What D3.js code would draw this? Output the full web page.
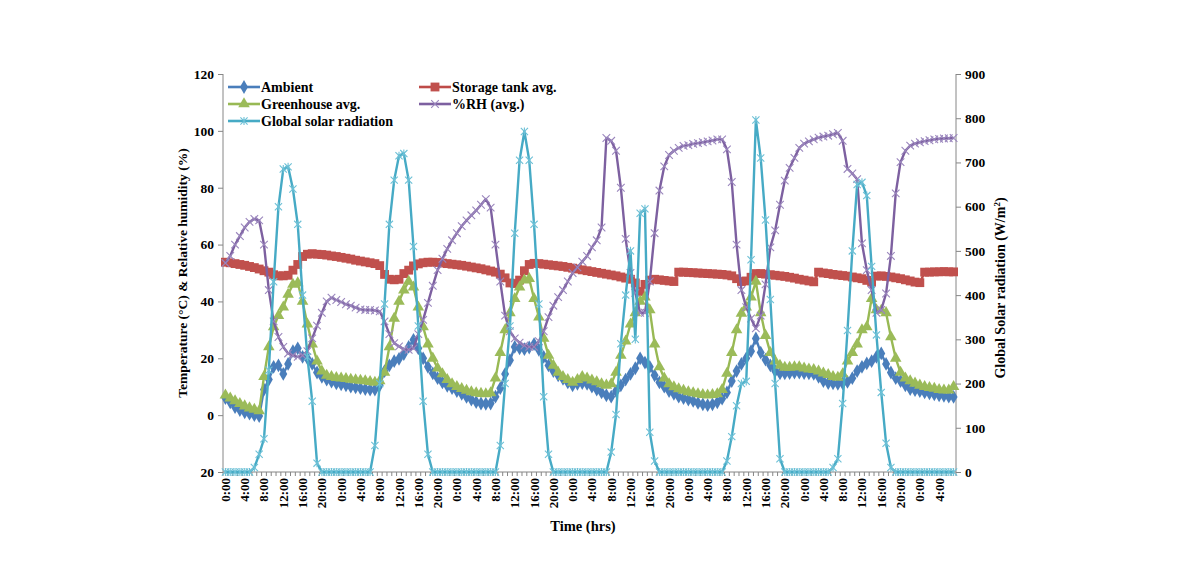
<!DOCTYPE html>
<html><head><meta charset="utf-8">
<script src="https://cdn.jsdelivr.net/npm/d3@7/dist/d3.min.js"></script>
<style>
body{margin:0;background:#fff}
svg{display:block}
text{font-family:"Liberation Serif","Times New Roman",serif;font-weight:bold;fill:#000}
</style>
</head><body>
<svg id="c" width="1192" height="574"></svg>
<script>
// ---- data (hourly, 152 points) ----
const ambient = [
6,4.5,2.8,1.8,1,0.5,0,-0.3,9,12.5,17,17.5,14.5,18,22.5,23.5,20.5,20,18,15,13.5,12.5,11.8,11.2,
10.8,10.5,10,9.8,9.5,9.2,9,9,10.5,15.5,17.5,19,19.8,21.5,24,26.5,23.5,20,17,14.7,13,11.5,10.3,9.5,
8.5,7.5,6.4,5.5,4.6,4.1,4,4.1,6.5,9.5,14.5,19.3,24,23.5,23.2,23.8,25,23,20.5,17.5,15.5,14,12.8,11.5,
10.5,11,11.3,11,10,9,8,7,6.5,8.5,10.5,12.5,14.5,16.5,20,18.5,17,14,11.5,10,8.5,7.5,6.5,6,
5.5,5,4.3,3.8,3.5,3.8,4.5,5.8,8,12,15.5,18,20,22.5,27,22,19.5,17.5,15.5,14.7,14.7,14.8,15,15,
14.8,14.7,14.5,13.5,12,11.3,11.2,11,11.2,11.7,13,15.5,17,18.2,19,20.5,21.7,18,15,13,12,10.5,9.2,8.8,
8.5,8,7.7,7.3,7,6.8,6.5,6.4];
const storage = [
53.8,53.6,53.3,53.0,52.7,52.3,51.9,51.4,50.8,50.3,49.4,49.0,49.0,49.2,51.0,53.0,55.8,56.6,56.8,56.6,56.5,56.3,56.0,55.8,
55.5,55.2,54.9,54.5,54.2,53.9,53.6,53.3,52.6,49.5,47.8,47.6,47.8,49.8,51.0,52.5,53.2,53.6,53.8,53.8,53.7,53.5,53.3,53.1,
52.9,52.7,52.4,52.1,51.8,51.5,51.1,50.7,50.3,49.6,48.3,46.5,46.3,47.5,50.8,53.0,53.4,53.3,53.1,52.9,52.7,52.5,52.3,52.0,
51.7,51.4,51.1,50.8,50.5,50.2,49.9,49.6,49.3,49.0,48.6,48.2,47.8,46.5,43.5,46.0,47.5,47.8,47.6,47.4,47.2,47.0,50.3,50.3,
50.2,50.1,50.0,49.9,49.8,49.7,49.6,49.5,49.3,49.0,48.0,47.0,47.2,48.5,49.8,49.8,49.6,49.4,49.2,49.0,48.8,48.5,48.2,47.8,
47.5,47.2,46.9,50.3,50.0,49.8,49.5,49.3,49.1,48.9,48.6,48.3,48.0,47.4,46.8,48.9,49.0,48.8,48.6,48.3,48.0,47.6,47.2,46.8,
46.6,50.3,50.3,50.4,50.4,50.5,50.4,50.4];
const greenhouse = [
7,6,5,4,3.2,2.5,2,1.5,13.5,24,31,35,38,42.5,46,46.5,40,32,25,19,15.5,14,13.5,13.2,
13,12.8,12.6,12.4,12.2,12,11.8,11.5,12,15,24,34,40,44,47,45,38,31,25,20,16.5,14.5,12.5,11,
10,9.3,8.7,8.2,7.8,7.6,7.5,7.8,13,22,30,36,41,45,47.5,48,41,34.5,27,21,17.5,15,13.5,12.5,
11.5,12.5,13.5,13,12.3,11.7,11,10.5,11,15,21,26,32,36,40,41.5,37,25,17,13,11,9.9,9.2,8.7,
8.2,7.8,7.5,7.2,7,7.2,7.5,9,14.7,22,30,35.8,38,41.5,47,36,28,22,19,17.5,16.8,16.8,17,17,
16.5,16.2,16,15.5,14.8,14.2,13.5,13.3,14.5,19,22,25,30,31,41,37,36.8,36,27.5,20,15,13,12,11.2,
10.5,10,9.7,9.4,9,8.8,8.8,10];
const humidity = [
53.5,56,60,63,66,68,69,68.5,60,44,33,27.5,24,21.7,21,20.5,21,22.5,27,31.5,36,40,41.3,40.5,
39.8,39,38.5,37.8,37.2,37,37,36.8,36.5,33,28.5,25.3,24.2,23.2,23,23.5,28.5,33.5,39.5,45.5,51,55,58.5,61.5,
64,66.5,68.5,70.3,72,74,76,73,60,47,35,29.5,27,25.5,24.5,24,24,26,29.5,34.5,38.5,41.5,44,47,
50,52,54,56,59,61.5,66,97.5,96.5,93,80,62,50,43,36,36,47,64,79,87.5,91.5,93,94,94.7,
95,95.4,95.7,96,96.3,96.6,97,97,93.5,82,60,44,38,34,30.5,35,46,59,65,74,82.5,87,90.5,94,
95.5,96.3,97,97.6,98,98.3,98.8,99.3,96.5,86.6,85,83,60.4,51,44,36,37,42.8,56,78,89,93,94.8,95.5,
96,96.4,96.7,97,97.2,97.3,97.4,97.5];
const solar = [
0,0,0,0,0,0,10,40,75,230,430,600,685,690,640,560,400,260,160,20,0,0,0,0,
0,0,0,0,0,0,0,60,200,380,560,660,715,720,660,510,330,160,40,0,0,0,0,0,
0,0,0,0,0,0,0,0,0,60,200,330,540,705,770,705,560,380,170,40,0,0,0,0,
0,0,0,0,0,0,0,0,45,130,290,400,500,300,585,595,90,25,0,0,0,0,0,0,
0,0,0,0,0,0,0,0,25,80,150,200,205,480,796,710,570,390,200,30,0,0,0,0,
0,0,0,0,0,0,10,30,155,320,500,650,655,625,465,310,180,65,10,0,0,0,0,0,
0,0,0,0,0,0,0,0];
const hourLabels = ["0:00","4:00","8:00","12:00","16:00","20:00"];
const leftTicks = [-20,0,20,40,60,80,100,120];
const leftTickLabels = ["20","0","20","40","60","80","100","120"];
const rightTicks = [0,100,200,300,400,500,600,700,800,900];

// ---- layout ----
const svg = d3.select("#c");
const L = 223, R = 956, T = 74, B = 472;
const n = solar.length;
const x = d3.scaleBand().domain(d3.range(n)).range([L, R]);
const xc = i => x(i) + x.bandwidth()/2;
const yL = d3.scaleLinear().domain([-20,120]).range([B,T]);
const yR = d3.scaleLinear().domain([0,900]).range([B,T]);
const axisCol = "#868686";

svg.append("line").attr("x1",L).attr("x2",L).attr("y1",T).attr("y2",B).attr("stroke",axisCol);
svg.append("line").attr("x1",R).attr("x2",R).attr("y1",T).attr("y2",B).attr("stroke",axisCol);
svg.append("line").attr("x1",L).attr("x2",R).attr("y1",B).attr("y2",B).attr("stroke",axisCol);

const gl = svg.append("g").attr("transform",`translate(${L},0)`)
  .call(d3.axisLeft(yL).tickValues(leftTicks).tickSize(5).tickFormat((d,i)=>leftTickLabels[i]));
gl.select(".domain").remove();
gl.selectAll("line").attr("stroke",axisCol);
gl.selectAll("text").attr("font-size",13.5).attr("x",-9).style("font-family",'"Liberation Serif",serif').style("font-weight","bold");

const gr = svg.append("g").attr("transform",`translate(${R},0)`)
  .call(d3.axisRight(yR).tickValues(rightTicks).tickSize(5));
gr.select(".domain").remove();
gr.selectAll("line").attr("stroke",axisCol);
gr.selectAll("text").attr("font-size",13.5).attr("x",9).style("font-family",'"Liberation Serif",serif').style("font-weight","bold");

svg.append("g").selectAll("line").data(d3.range(n+1)).join("line")
  .attr("x1",i=>L+i*x.step()).attr("x2",i=>L+i*x.step())
  .attr("y1",B).attr("y2",B+4).attr("stroke",axisCol);
svg.append("g").selectAll("text").data(d3.range(0,n,4)).join("text")
  .attr("transform",i=>`translate(${xc(i)+4.5},${B+6}) rotate(-90)`)
  .attr("text-anchor","end").attr("font-size",13)
  .text(i=>hourLabels[(i%24)/4]);

svg.append("text").attr("x",583).attr("y",531).attr("text-anchor","middle").attr("font-size",14.5).text("Time (hrs)");
svg.append("text").attr("transform","translate(187,273) rotate(-90)").attr("text-anchor","middle").attr("font-size",13.5)
  .text("Temperature  (°C) & Relative humidity  (%)");
const rt = svg.append("text").attr("transform","translate(1005,288) rotate(-90)").attr("text-anchor","middle").attr("font-size",14);
rt.append("tspan").text("Global Solar radiation  (W/m");
rt.append("tspan").attr("dy",-5).attr("font-size",9).text("2");
rt.append("tspan").attr("dy",5).text(")");

function marker(g, type, color, px, py){
  if(type==="diamond"){
    g.append("path").attr("d",d3.symbol(d3.symbolDiamond,55)()).attr("transform",`translate(${px},${py})`).attr("fill",color);
  } else if(type==="square"){
    g.append("path").attr("d",d3.symbol(d3.symbolSquare,78)()).attr("transform",`translate(${px},${py})`).attr("fill",color);
  } else if(type==="triangle"){
    g.append("path").attr("d",d3.symbol(d3.symbolTriangle,58)()).attr("transform",`translate(${px},${py})`).attr("fill",color);
  } else if(type==="x"){
    const s=3.8;
    g.append("path").attr("d",`M${px-s},${py-s}L${px+s},${py+s}M${px-s},${py+s}L${px+s},${py-s}`).attr("stroke",color).attr("stroke-width",1.1).attr("fill","none");
  } else if(type==="star"){
    const s=3.6;
    g.append("path").attr("d",`M${px-s},${py-s}L${px+s},${py+s}M${px-s},${py+s}L${px+s},${py-s}M${px},${py-s-0.5}L${px},${py+s+0.5}`).attr("stroke",color).attr("stroke-width",1.1).attr("fill","none");
  }
}

const series = [
  {name:"Ambient", data:ambient, y:yL, color:"#4a7ebb", mcolor:"#4a7ebb", type:"diamond"},
  {name:"Storage tank avg.", data:storage, y:yL, color:"#be4b48", mcolor:"#c0504d", type:"square"},
  {name:"Greenhouse avg.", data:greenhouse, y:yL, color:"#98b954", mcolor:"#9bbb59", type:"triangle"},
  {name:"%RH (avg.)", data:humidity, y:yL, color:"#7d60a0", mcolor:"#9a86bd", type:"x"},
  {name:"Global solar radiation", data:solar, y:yR, color:"#46aac5", mcolor:"#6cc0d6", type:"star"}
];

const plot = svg.append("g");
series.forEach(s=>{
  const g = plot.append("g");
  g.append("path").datum(s.data)
    .attr("d", d3.line().x((d,i)=>xc(i)).y(d=>s.y(d)))
    .attr("fill","none").attr("stroke",s.color).attr("stroke-width",2.4).attr("stroke-linejoin","round");
  s.data.forEach((d,i)=>marker(g, s.type, s.mcolor, xc(i), s.y(d)));
});

const legPos = [
  {x:226,y:87},{x:417,y:87},{x:226,y:104},{x:417,y:104},{x:226,y:121}
];
series.forEach((s,k)=>{
  const p = legPos[k];
  const g = svg.append("g");
  g.append("line").attr("x1",p.x+2).attr("x2",p.x+34).attr("y1",p.y).attr("y2",p.y).attr("stroke",s.color).attr("stroke-width",2.6);
  marker(g, s.type, s.mcolor, p.x+18, p.y);
  g.append("text").attr("x",p.x+35).attr("y",p.y+4.5).attr("font-size",14).text(s.name);
});
</script>
</body></html>
